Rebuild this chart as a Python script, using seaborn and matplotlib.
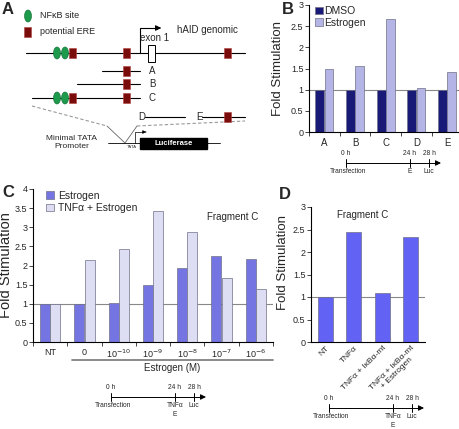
import numpy as np
import pandas as pd
import seaborn as sb
from matplotlib import pyplot as plt
from matplotlib.patches import Ellipse, Rectangle

# ---- data ----
b_fragments = ["A", "B", "C", "D", "E"]
b_dmso = [1.0, 1.0, 1.0, 1.0, 1.0]
b_estrogen = [1.5, 1.55, 2.68, 1.03, 1.42]

c_doses = ["NT", "0", "1e-10", "1e-9", "1e-8", "1e-7", "1e-6"]
c_ticklabels = ["NT", "0", r"10$^{-10}$", r"10$^{-9}$", r"10$^{-8}$", r"10$^{-7}$", r"10$^{-6}$"]
c_estrogen = [1.0, 1.0, 1.03, 1.5, 1.93, 2.24, 2.17]
c_tnf_estrogen = [1.0, 2.14, 2.43, 3.42, 2.87, 1.67, 1.38]

d_treatments = ["NT", "TNFα", "TNFα + IκBα-mt", "TNFα + IκBα-mt\n+ Estrogen"]
d_fold = [1.0, 2.44, 1.09, 2.33]

W, H = 460, 429
DMSO_COL = "#0a0a86"
EST_B_COL = "#ababf0"
EST_COL = "#6262f4"
TNF_COL = "#d9d9f8"
EDGE = "#707088"

sb.set_theme(style="ticks")
plt.rcParams["font.family"] = ["Liberation Sans", "DejaVu Sans"]

fig = plt.figure(figsize=(W / 100, H / 100), dpi=100)

# overlay in pixel coordinates for the schematic and timelines
ov = fig.add_axes([0, 0, 1, 1])
ov.set_xlim(0, W)
ov.set_ylim(H, 0)
ov.axis("off")


def px_axes(x0, y0, x1, y1):
    return fig.add_axes([x0 / W, 1 - y1 / H, (x1 - x0) / W, (y1 - y0) / H])


def style_axes(ax, ymax, n, between_ticks=True, ylabel_size=10, ylabel_xy=(-0.15, 0.5)):
    sb.despine(ax=ax)
    ax.set_ylim(0, ymax)
    ax.set_yticks(np.arange(0, ymax + 0.01, 0.5))
    ax.set_yticklabels([f"{v:g}" for v in np.arange(0, ymax + 0.01, 0.5)])
    ax.set_xlim(-0.5, n - 0.5)
    ax.tick_params(axis="y", length=3, width=0.6, labelsize=6.5, pad=1)
    ax.tick_params(axis="x", length=0, labelsize=7, pad=4)
    if between_ticks:
        ax.set_xticks(np.arange(-0.5, n, 1), minor=True)
        ax.tick_params(axis="x", which="minor", length=3, width=0.6)
    for s in ["left", "bottom"]:
        ax.spines[s].set_linewidth(0.8)
        ax.spines[s].set_color("black")
    ax.axhline(1, color="#888888", lw=0.8, zorder=0)
    ax.set_xlabel("")
    ax.set_ylabel("Fold Stimulation", fontsize=ylabel_size)
    ax.yaxis.set_label_coords(*ylabel_xy)


# ---- panel B ----
axb = px_axes(309, 5, 460, 132)
dfb = pd.DataFrame({
    "fragment": b_fragments * 2,
    "fold": b_dmso + b_estrogen,
    "treatment": ["DMSO"] * 5 + ["Estrogen"] * 5,
})
sb.barplot(data=dfb, x="fragment", y="fold", hue="treatment",
           palette=[DMSO_COL, EST_B_COL], width=0.6, gap=0.04,
           edgecolor=EDGE, linewidth=0.5, ax=axb)
style_axes(axb, 3, 5, ylabel_size=9.5, ylabel_xy=(-0.165, 0.5))
axb.set_xlim(-0.5, 4.42)
h, l = axb.get_legend_handles_labels()
axb.legend(h, l, loc="upper left", bbox_to_anchor=(0.0, 1.04), frameon=False,
           fontsize=7.5, handlelength=0.7, handleheight=0.7, handletextpad=0.2,
           labelspacing=0.15, borderaxespad=0.2)

# ---- panel C ----
axc = px_axes(33, 189, 273, 342)
dfc = pd.DataFrame({
    "dose": c_doses * 2,
    "fold": c_estrogen + c_tnf_estrogen,
    "treatment": ["Estrogen"] * 7 + ["TNFα + Estrogen"] * 7,
})
sb.barplot(data=dfc, x="dose", y="fold", hue="treatment",
           palette=[EST_COL, TNF_COL], width=0.6, gap=0.04,
           edgecolor=EDGE, linewidth=0.5, ax=axc)
style_axes(axc, 4, 7, ylabel_size=10.5, ylabel_xy=(-0.083, 0.5))
axc.set_xticks(range(7))
axc.set_xticklabels(c_ticklabels, fontsize=6.5)
h, l = axc.get_legend_handles_labels()
axc.legend(h, l, loc="upper left", bbox_to_anchor=(0.03, 1.03), frameon=False,
           fontsize=7.5, handlelength=0.7, handleheight=0.7, handletextpad=0.4,
           labelspacing=0.25, borderaxespad=0.2)
axc.text(0.83, 0.8, "Fragment C", transform=axc.transAxes, fontsize=7, ha="center")

# ---- panel D ----
axd = px_axes(311, 207, 425, 342)
dfd = pd.DataFrame({"treatment": d_treatments, "fold": d_fold})
sb.barplot(data=dfd, x="treatment", y="fold", color=EST_COL, width=0.53,
           edgecolor=EDGE, linewidth=0.5, saturation=1, ax=axd)
style_axes(axd, 3, 4, between_ticks=False, ylabel_size=9.5, ylabel_xy=(-0.195, 0.59))
axd.set_xticks(range(4))
axd.set_xticklabels(d_treatments, rotation=45, ha="right", rotation_mode="anchor",
                    fontsize=6, linespacing=0.9, multialignment="center")
axd.tick_params(axis="x", pad=2)
axd.text(0.45, 0.92, "Fragment C", transform=axd.transAxes, fontsize=7, ha="center")

# ---- panel letters ----
for txt, x, y in [("A", 2, 2), ("B", 282, 2), ("C", 2, 185), ("D", 279, 187)]:
    ov.text(x, y, txt, fontsize=12, fontweight="bold", va="top", ha="left")

# ---- panel A schematic ----
GREEN = "#1d9a4c"
RED = "#7b0c0c"


def nfkb(x, y):
    ov.add_patch(Ellipse((x, y), 7, 12, facecolor=GREEN, edgecolor="#0f6a30", lw=0.4, zorder=3))


def ere(x, y):
    ov.add_patch(Rectangle((x - 3.5, y - 5), 7, 10, facecolor=RED, edgecolor="#b04040", lw=0.4, zorder=3))


def seg(x0, x1, y):
    ov.plot([x0, x1], [y, y], color="black", lw=0.8, zorder=2)


nfkb(28, 16)
ov.text(40, 16, "NFκB site", fontsize=6.5, va="center")
ere(28, 32)
ov.text(40, 32, "potential ERE", fontsize=6.5, va="center")

seg(26, 245, 53)
for x in (57, 65):
    nfkb(x, 53)
for x in (73, 127, 228):
    ere(x, 53)
ov.plot([140, 140, 158], [53, 28, 28], color="black", lw=0.8)
ov.annotate("", xy=(164, 28), xytext=(156, 28),
            arrowprops=dict(arrowstyle="-|>", color="black", lw=0.8, mutation_scale=8))
ov.add_patch(Rectangle((148, 45), 7, 17, facecolor="white", edgecolor="black", lw=0.7, zorder=3))
ov.text(155, 38, "exon 1", fontsize=7, ha="center", va="center")
ov.text(177, 30, "hAID genomic", fontsize=7, ha="left", va="center")

seg(102, 140, 71)
ere(127, 71)
ov.text(149, 71, "A", fontsize=7, va="center")
seg(77, 140, 84)
ere(127, 84)
ov.text(149, 84, "B", fontsize=7, va="center")
seg(32, 140, 98)
for x in (57, 65):
    nfkb(x, 98)
for x in (73, 127):
    ere(x, 98)
ov.text(149, 98, "C", fontsize=7, va="center")
ov.text(138, 117, "D", fontsize=7, va="center")
seg(145, 185, 117)
ov.text(196, 117, "E", fontsize=7, va="center")
seg(202, 245, 117)
ere(228, 117)

ov.plot([32, 107], [106, 126], color="#999999", lw=0.8, ls=(0, (3, 2)))
ov.plot([137, 245], [126, 121], color="#999999", lw=0.8, ls=(0, (3, 2)))
ov.plot([107, 125, 137], [126, 143, 126], color="#666666", lw=0.6)
ov.plot([108, 220], [143, 143], color="black", lw=0.6)
ov.text(132, 147, "TATA", fontsize=3, ha="center", va="center")
ov.plot([135, 135, 144], [143, 132, 132], color="black", lw=0.5)
ov.annotate("", xy=(149, 132), xytext=(143, 132),
            arrowprops=dict(arrowstyle="-|>", color="black", lw=0.5, mutation_scale=5))
ov.add_patch(Rectangle((140, 138), 67, 11, facecolor="black", edgecolor="black", zorder=3))
ov.text(173.5, 143.5, "Luciferase", fontsize=5.5, color="white", ha="center", va="center",
        fontweight="bold", zorder=4)
ov.text(72, 142, "Minimal TATA\nPromoter", fontsize=6, ha="center", va="center",
        linespacing=1.2)

# ---- Estrogen (M) bracket ----
ov.plot([72, 273], [360, 360], color="#777777", lw=1.2)
ov.text(172, 368, "Estrogen (M)", fontsize=7, ha="center", va="center")


# ---- timelines ----
def timeline(x0, y, mid_below):
    x24, x28, xend = x0 + 64, x0 + 83, x0 + 95
    ov.plot([x0, xend - 4], [y, y], color="black", lw=0.7)
    ov.annotate("", xy=(xend, y), xytext=(xend - 5, y),
                arrowprops=dict(arrowstyle="-|>", color="black", lw=0.7, mutation_scale=8))
    for x in (x0, x24, x28):
        ov.plot([x, x], [y - 4, y + 4], color="black", lw=0.7)
    for x, t in ((x0, "0 h"), (x24, "24 h"), (x28, "28 h")):
        ov.text(x, y - 6, t, fontsize=4.8, ha="center", va="bottom")
    ov.text(x0 + 2, y + 5, "Transfection", fontsize=4.8, ha="center", va="top")
    ov.text(x24, y + 5, mid_below, fontsize=4.8, ha="center", va="top", linespacing=1.4)
    ov.text(x28, y + 5, "Luc", fontsize=4.8, ha="center", va="top")


timeline(346, 163, "E")
timeline(111, 397, "TNFα\nE")
timeline(329, 408, "TNFα\nE")

fig.savefig("out.png", dpi=100)
